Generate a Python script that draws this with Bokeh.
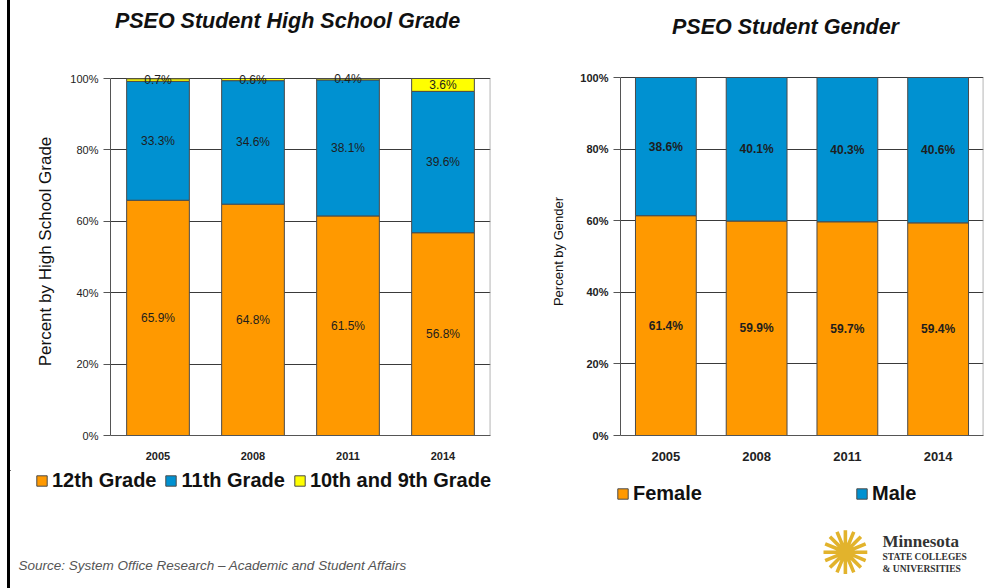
from bokeh.plotting import figure
from bokeh.models import (ColumnDataSource, Range1d, FactorRange, FixedTicker,
                          PrintfTickFormatter, Legend, LegendItem, Div, Spacer)
from bokeh.layouts import row, column
from bokeh.embed import file_html
from bokeh.resources import INLINE
from bokeh.core.properties import value

# ---------------- data ----------------
years = ["2005", "2008", "2011", "2014"]
grade12 = [65.9, 64.8, 61.5, 56.8]
grade11 = [33.3, 34.6, 38.1, 39.6]
grade10_9 = [0.7, 0.6, 0.4, 3.6]
grade_labels = ["12th Grade", "11th Grade", "10th and 9th Grade"]

female = [61.4, 59.9, 59.7, 59.4]
male = [38.6, 40.1, 40.3, 40.6]
gender_labels = ["Female", "Male"]

y_ticks = [0, 20, 40, 60, 80, 100]

left_title = "PSEO Student High School Grade"
right_title = "PSEO Student Gender"
left_ylabel = "Percent by High School Grade"
right_ylabel = "Percent by Gender"
source_text = "Source: System Office Research \u2013 Academic and Student Affairs"
logo_lines = ["Minnesota", "STATE COLLEGES", "& UNIVERSITIES"]

# ---------------- style ----------------
ORANGE = "#FF9900"
BLUE = "#0091D1"
YELLOW = "#FFFF00"
EDGE = "#4a4a4a"
FONT = "Liberation Sans"
SERIF = "Liberation Serif"

HEADER_H = 57
CHART_H = 413
FOOTER_H = 588 - HEADER_H - CHART_H
INNER_W = 993
FRAME_TOP = 67      # page y of the top of both plot frames
FRAME_BOTTOM = 435  # page y of 0%


def make_chart(width, left, right, hundred_px):
    # y range runs a little above 100% so that labels on the top edge are not clipped
    per_unit = (FRAME_BOTTOM - hundred_px) / 100.0
    y_end = 100 + (hundred_px - FRAME_TOP) / per_unit
    p = figure(width=width, height=CHART_H, x_range=FactorRange(*years),
               y_range=Range1d(0, y_end), output_backend="svg", toolbar_location=None,
               title=None, min_border_left=left, min_border_right=right,
               min_border_top=FRAME_TOP - HEADER_H,
               min_border_bottom=HEADER_H + CHART_H - FRAME_BOTTOM)
    p.background_fill_color = "white"
    p.border_fill_color = "white"
    p.outline_line_color = None
    p.xgrid.grid_line_color = None
    p.ygrid.ticker = FixedTicker(ticks=y_ticks)
    p.ygrid.grid_line_color = "#3a3a3a"
    p.ygrid.grid_line_width = 1
    ya = p.yaxis[0]
    ya.ticker = FixedTicker(ticks=y_ticks)
    ya.formatter = PrintfTickFormatter(format="%d%%")
    ya.bounds = (0, 100)
    ya.major_tick_out = 7
    ya.major_tick_in = 0
    ya.minor_tick_line_color = None
    ya.major_label_standoff = 5
    ya.axis_line_color = "#555555"
    ya.major_tick_line_color = "#555555"
    ya.major_label_text_font = FONT
    ya.major_label_text_color = "#222222"
    ya.axis_label_text_font = FONT
    ya.axis_label_text_font_style = "normal"
    ya.axis_label_text_color = "#111111"
    xa = p.xaxis[0]
    xa.major_tick_line_color = None
    xa.axis_line_color = "#555555"
    xa.major_label_standoff = 10
    xa.major_label_text_font = FONT
    xa.major_label_text_font_style = "bold"
    xa.major_label_text_color = "#222222"
    # right edge of the plot box (0% to 100%)
    p.segment(x0=[3.997], y0=[0], x1=[3.997], y1=[100], line_color="#8c8c8c", line_width=1)
    return p


def blank(width, height):
    f = figure(width=width, height=height, x_range=Range1d(0, width),
               y_range=Range1d(height, 0), output_backend="svg", toolbar_location=None,
               title=None, x_axis_location=None, y_axis_location=None, min_border=0)
    f.outline_line_color = None
    f.xgrid.visible = False
    f.ygrid.visible = False
    f.background_fill_color = "white"
    f.border_fill_color = "white"
    return f


# ================= LEFT CHART =================
p1 = make_chart(505, 100, 25, 78)

src1 = ColumnDataSource(dict(year=years, g12=grade12, g11=grade11, g109=grade10_9))
rs1 = p1.vbar_stack(["g12", "g11", "g109"], x="year", width=0.66,
                    fill_color=[ORANGE, BLUE, YELLOW], line_color=EDGE,
                    line_width=1, source=src1)

mid12 = [a / 2 for a in grade12]
mid11 = [a + b / 2 for a, b in zip(grade12, grade11)]
mid109 = [a + b + c / 2 for a, b, c in zip(grade12, grade11, grade10_9)]
p1.text(x=years * 3, y=mid12 + mid11 + mid109,
        text=["%.1f%%" % v for v in grade12 + grade11 + grade10_9],
        text_align="center", text_baseline="middle",
        text_font=value(FONT), text_font_size="12px", text_color="#1e1e1e")

p1.yaxis.axis_label = left_ylabel
p1.yaxis.axis_label_text_font_size = "17px"
p1.yaxis.axis_label_standoff = 12
p1.yaxis.major_label_text_font_size = "11px"
p1.xaxis.major_label_text_font_size = "11px"

# ================= RIGHT CHART =================
p2 = make_chart(488, 105, 20, 77)

src2 = ColumnDataSource(dict(year=years, female=female, male=male))
rs2 = p2.vbar_stack(["female", "male"], x="year", width=0.67,
                    fill_color=[ORANGE, BLUE], line_color=EDGE,
                    line_width=1, source=src2)
midf = [a / 2 for a in female]
midm = [a + b / 2 for a, b in zip(female, male)]
p2.text(x=years * 2, y=midf + midm, text=["%.1f%%" % v for v in female + male],
        text_align="center", text_baseline="middle", text_font=value(FONT),
        text_font_size="12px", text_font_style="bold", text_color="#1e1e1e")

p2.yaxis.axis_label = right_ylabel
p2.yaxis.axis_label_text_font_size = "13px"
p2.yaxis.axis_label_standoff = 11
p2.yaxis.major_label_text_font_size = "11px"
p2.yaxis.major_label_text_font_style = "bold"
p2.xaxis.major_label_text_font_size = "13px"

# ================= HEADER (titles) =================
# coordinates in this strip: x = page x - 10, y = page y
head = blank(INNER_W, HEADER_H)
head.text(x=[277, 775], y=[20, 26], text=[left_title, right_title],
          text_align="center", text_baseline="middle", text_font=value(FONT),
          text_font_size="21.5px", text_font_style="bold italic", text_color="#111111")

# ================= FOOTER (legends, source, logo) =================
# coordinates in this strip: x = page x - 10, y = page y - 470
foot = blank(INNER_W, FOOTER_H)
# legend swatch renderers: one point placed outside the visible range
offscreen = dict(x=[-1000], top=[0])
dummy1 = [foot.vbar(x="x", top="top", width=1, source=ColumnDataSource(offscreen),
                    fill_color=c, line_color=EDGE) for c in [ORANGE, BLUE, YELLOW]]
leg_common = dict(orientation="horizontal", padding=0, margin=0, label_standoff=4,
                  glyph_width=13, glyph_height=13, label_text_font=FONT,
                  label_text_font_size="20px", label_text_font_style="bold",
                  label_text_color="#111111", border_line_color=None,
                  background_fill_alpha=0, label_height=20)
leg1 = Legend(items=[LegendItem(label=l, renderers=[r], index=0)
                     for l, r in zip(grade_labels, dummy1)],
              location=(25, FOOTER_H - (481 - 470) - 11), spacing=8, **leg_common)
foot.add_layout(leg1)

dummy2 = [foot.vbar(x="x", top="top", width=1, source=ColumnDataSource(offscreen),
                    fill_color=c, line_color=EDGE) for c in [ORANGE, BLUE]]
for lab, r, px in zip(gender_labels, dummy2, [616, 855]):
    lg = Legend(items=[LegendItem(label=lab, renderers=[r], index=0)],
                location=(px - 10, FOOTER_H - (494 - 470) - 11), **leg_common)
    foot.add_layout(lg)

foot.text(x=[8], y=[565 - 470], text=[source_text], text_align="left",
          text_baseline="middle", text_font=value(FONT), text_font_size="13.5px",
          text_font_style="italic", text_color="#555555")

# logo
foot.text(x=[845 - 10], y=[552 - 470], text=["\u273A"], text_align="center",
          text_baseline="middle", text_font=value("DejaVu Sans"), text_font_size="60px",
          text_color="#E2B32C")
foot.text(x=[845 - 10], y=[552 - 470], text=["\u2738"], text_align="center",
          text_baseline="middle", text_font=value("DejaVu Sans"), text_font_size="30px",
          text_color="#E2B32C")
foot.text(x=[872], y=[541 - 470], text=[logo_lines[0]], text_align="left",
          text_baseline="middle", text_font=value(SERIF), text_font_size="17px",
          text_font_style="bold", text_color="#333333")
foot.text(x=[872, 872], y=[556 - 470, 568 - 470], text=logo_lines[1:], text_align="left",
          text_baseline="middle", text_font=value(SERIF), text_font_size="9.5px",
          text_font_style="bold", text_color="#333333")

# left border line
border = Div(text="", width=3, height=588, margin=0,
             styles={"background-color": "black"})
pad = Spacer(width=7, height=588, margin=0)

inner = column(head, row(p1, p2, spacing=0), foot, spacing=0)
layout = row(pad, border, inner, spacing=0)
open("out.html", "w").write(file_html(layout, INLINE))
